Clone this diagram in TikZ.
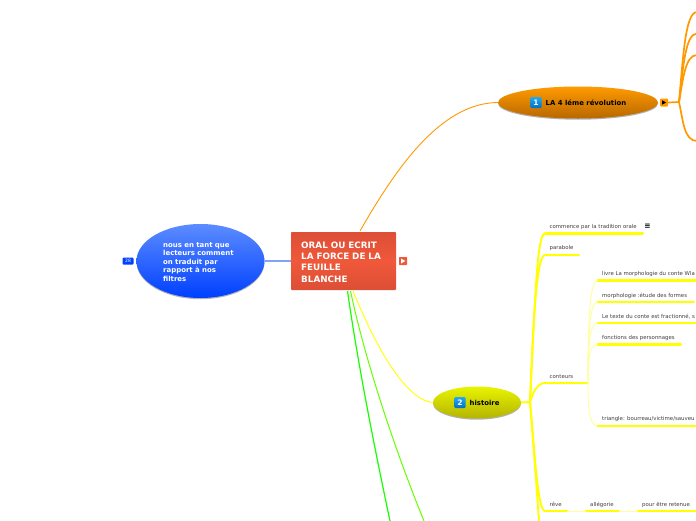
\documentclass[tikz,border=0pt]{standalone}
\usepackage{fontspec}
\setmainfont{DejaVu Sans}
\usetikzlibrary{shadows,shapes.geometric}
\definecolor{orangeb}{HTML}{FF9900}
\definecolor{yellowb}{HTML}{FFFF00}
\definecolor{paleb}{HTML}{FFFF99}
\definecolor{redc}{HTML}{F0583A}
\definecolor{redd}{HTML}{DC4F36}
\definecolor{bluetop}{HTML}{5C8CFF}
\definecolor{bluebot}{HTML}{0040FF}
\definecolor{bluel}{HTML}{7FA6F5}
\definecolor{badget}{HTML}{22AAEE}
\definecolor{badgeb}{HTML}{0070C8}
\definecolor{oratop}{HTML}{FF9A00}
\definecolor{orabot}{HTML}{B86800}
\definecolor{yeltop}{HTML}{E8F400}
\definecolor{yelbot}{HTML}{B4B400}
\tikzset{
  x=1pt,y=-1pt,
  softshadow/.style={drop shadow={shadow xshift=0pt,shadow yshift=-1.2pt,fill=gray,opacity=.6}},
  topic/.style={ellipse,inner sep=0pt,softshadow},
  badge/.style={rounded corners=1pt,minimum width=11pt,minimum height=11pt,inner sep=0pt,top color=badget,bottom color=badgeb,text=white,font=\bfseries\fontsize{7.5}{8}\selectfont},
  toptext/.style={font=\bfseries\fontsize{6.9}{8}\selectfont,text=black,inner sep=0pt},
  leaftext/.style={font=\fontsize{5.4}{6}\selectfont,text=black!75,inner sep=0pt,anchor=west},
  thick yellow/.style={draw=yellowb,line width=2.2pt,line cap=round},
  trunk/.style={draw=yellowb,line width=1.9pt},
  thin pale/.style={draw=paleb,line width=.9pt},
  orange branch/.style={draw=orangeb,line width=1.7pt},
}
\newcommand{\leafnode}[5]{%
  \coordinate (#1l) at (#2,#4);
  \coordinate (#1r) at (#3,#4);
  \node[leaftext] (#1) at (#2+4.5,#4-6.5) {#5};
  \draw[thick yellow] (#1l) -- (#1r);
}
\begin{document}
\begin{tikzpicture}
\useasboundingbox (0,0) rectangle (696,520);
\fill[white] (0,0) rectangle (696,520);
\begin{scope}
\clip (0,0) rectangle (696,520);

% central node
\node[rectangle,minimum width=105pt,minimum height=58pt,inner sep=0pt,rounded corners=.8pt,
  top color=redd,bottom color=redd,middle color=redc] (main) at (343.5,261) {};
\node[text=white,font=\bfseries\fontsize{8.8}{11.2}\selectfont,align=left,anchor=west,inner sep=0pt,text width=92pt] (maintext) at (301,262)
  {ORAL OU ECRIT\\LA FORCE DE LA\\FEUILLE\\BLANCHE};
\node[fill=redc,rounded corners=.6pt,minimum width=8pt,minimum height=8pt,inner sep=0pt] (mainmark) at (403,261) {};
\fill[white] (401,258.5) -- (405.3,261) -- (401,263.5) -- cycle;

% left blue topic
\node[topic,minimum width=128pt,minimum height=74pt,top color=bluetop,bottom color=bluebot] (bluet) at (200.5,261) {};
\node[text=white,font=\bfseries\fontsize{6.95}{8.5}\selectfont,align=left,anchor=west,inner sep=0pt,text width=85pt] (bluetext) at (163,262)
  {nous en tant que\\lecteurs comment\\on traduit par\\rapport à nos\\filtres};
\node[fill=bluebot,rounded corners=1pt,minimum width=11pt,minimum height=7pt,inner sep=0pt,text=white,font=\fontsize{4.5}{5}\selectfont] (bluebadge) at (128,261) {28};
\draw[draw=bluel,line width=1.1pt] (bluet.east) -- (main.west);

% orange topic
\node[topic,minimum width=160pt,minimum height=32pt,top color=oratop,bottom color=orabot] (ora) at (578,102.5) {};
\node[badge] (b1) at (536,102.5) {1};
\node[toptext,anchor=west] (oratext) at (545.5,102.5) {LA 4 léme révolution};
\node[fill=orangeb,rounded corners=1pt,minimum width=8pt,minimum height=8pt,inner sep=0pt] (oramark) at (664,102.5) {};
\fill[black] (662,100.3) -- (666.2,102.5) -- (662,104.7) -- cycle;
\coordinate (start1) at (360,231);
\draw[draw=orangeb,line width=.9pt] (start1) .. controls (395,170) and (440,103) .. (ora.west);
\coordinate (orahub) at (679,102);
\coordinate (oa) at (697,12);
\coordinate (ob) at (697,33.5);
\coordinate (oc) at (697,55);
\coordinate (od) at (697,141);
\draw[orange branch] (oramark.east) -- (orahub);
\draw[orange branch] (orahub) .. controls (683,60) and (685,12) .. (oa);
\draw[orange branch] (orahub) .. controls (683,70) and (685,33.5) .. (ob);
\draw[orange branch] (orahub) .. controls (683,80) and (685,55) .. (oc);
\draw[orange branch] (orahub) .. controls (683,120) and (684,141) .. (od);

% yellow topic
\node[topic,minimum width=88pt,minimum height=32pt,top color=yeltop,bottom color=yelbot] (yel) at (477,402.5) {};
\node[badge] (b2) at (460,402.5) {2};
\node[toptext,anchor=west] (yeltext) at (469.5,402.5) {histoire};
\coordinate (start2) at (353,291);
\draw[draw=yellowb,line width=.9pt] (start2) .. controls (375,345) and (405,400) .. (yel.west);
\coordinate (yelhub) at (530,402);
\draw[trunk] (yel.east) -- (yelhub);

% leaves of histoire
\leafnode{com}{545}{643}{233.5}{commence par la tradition orale}
\node[font=\bfseries\fontsize{7.5}{8}\selectfont,inner sep=0pt] (noteicon) at (647.5,226) {≡};
\leafnode{par}{545}{579}{255}{parabole}
\leafnode{con}{545}{578}{383}{conteurs}
\leafnode{rev}{545}{567}{511}{rêve}
\leafnode{alle}{585.5}{619}{511}{allégorie}
\leafnode{pour}{637.5}{697}{511}{pour être retenue}
\draw[trunk] (yelhub) .. controls (535,300) and (537,233.5) .. (coml);
\draw[trunk] (yelhub) .. controls (533,330) and (536,255) .. (parl);
\draw[trunk] (yelhub) .. controls (533,393) and (537,383) .. (conl);
\draw[trunk] (yelhub) .. controls (534,440) and (537,511) .. (revl);
\coordinate (yeldown) at (539,522);
\draw[trunk] (yelhub) .. controls (533,440) and (537,490) .. (yeldown);
\draw[thin pale] (revr) -- (allel);
\draw[thin pale] (aller) -- (pourl);

% leaves of conteurs
\coordinate (conhub) at (588,383);
\draw[draw=yellowb,line width=1.2pt] (conr) -- (conhub);
\leafnode{liv}{597.5}{697}{280.5}{livre La morphologie du conte Wla}
\leafnode{mor}{597.5}{694}{302}{morphologie :étude des formes}
\leafnode{tex}{597.5}{697}{323}{Le texte du conte est fractionné, s}
\leafnode{fon}{597.5}{681}{344.5}{fonctions des personnages}
\leafnode{tri}{597.5}{697}{426}{triangle: bourreau/victime/sauveu}
\draw[thin pale] (conhub) .. controls (588,330) and (589,280.5) .. (livl);
\draw[thin pale] (conhub) .. controls (588,340) and (589,302) .. (morl);
\draw[thin pale] (conhub) .. controls (588,350) and (589,323) .. (texl);
\draw[thin pale] (conhub) .. controls (588,360) and (589,344.5) .. (fonl);
\draw[thin pale] (conhub) .. controls (588,405) and (589,426) .. (tril);

% green branches
\coordinate (start3) at (350.5,291);
\coordinate (end3) at (424,521);
\coordinate (start4) at (347.5,291);
\coordinate (end4) at (390,521);
\draw[draw=green!60!yellow,line width=1pt] (start3) .. controls (365,360) and (395,450) .. (end3);
\draw[draw=green!90!yellow,line width=1.2pt] (start4) .. controls (358,365) and (375,450) .. (end4);
\end{scope}
\end{tikzpicture}
\end{document}
